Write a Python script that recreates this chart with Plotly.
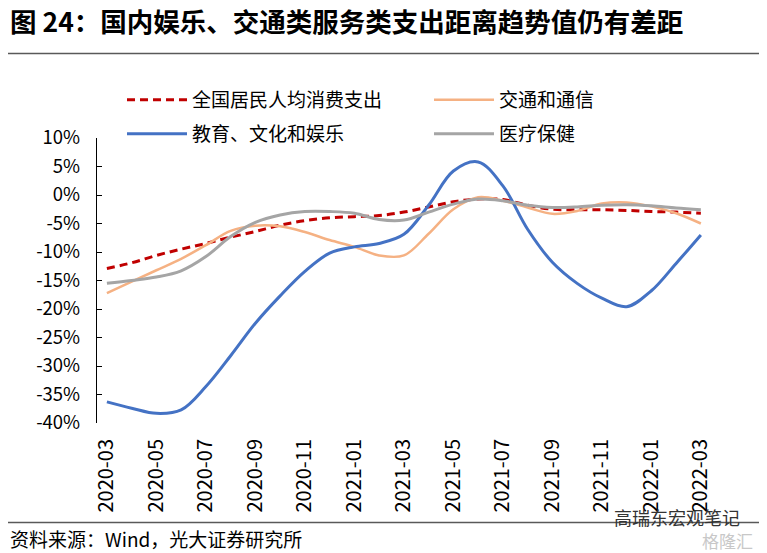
import plotly.graph_objects as go

months = ["2020-03", "2020-04", "2020-05", "2020-06", "2020-07", "2020-08", "2020-09",
          "2020-10", "2020-11", "2020-12", "2021-01", "2021-02", "2021-03", "2021-04",
          "2021-05", "2021-06", "2021-07", "2021-08", "2021-09", "2021-10", "2021-11",
          "2021-12", "2022-01", "2022-02", "2022-03"]

consumption = [-12.9, -11.9, -10.6, -9.5, -8.5, -7.4, -6.4, -5.3, -4.5, -4.0, -3.8, -3.6, -3.0,
               -2.1, -1.2, -0.7, -0.8, -1.8, -2.5, -2.6, -2.6, -2.7, -2.9, -3.0, -3.2]
transport = [-17.2, -15.2, -13.2, -11.2, -8.8, -6.3, -5.4, -5.5, -6.5, -7.9, -9.1, -10.6, -10.6,
             -6.8, -2.5, -0.4, -1.0, -2.2, -3.3, -2.8, -1.5, -1.3, -2.0, -3.2, -5.0]
education = [-36.3, -37.4, -38.3, -37.7, -33.6, -28.2, -22.5, -17.7, -13.4, -10.2, -9.1, -8.5, -6.9,
             -1.8, 4.2, 5.8, 1.6, -6.0, -11.8, -15.5, -18.1, -19.6, -16.8, -12.0, -7.0]
healthcare = [-15.5, -15.0, -14.4, -13.3, -10.8, -7.3, -4.8, -3.5, -2.9, -2.9, -3.2, -4.3, -4.4,
              -3.0, -1.6, -0.7, -1.0, -1.8, -2.2, -2.1, -1.8, -1.7, -1.9, -2.3, -2.6]

series_names = ["全国居民人均消费支出", "交通和通信", "教育、文化和娱乐", "医疗保健"]
tick_labels = months[::2]
y_ticks = [10, 5, 0, -5, -10, -15, -20, -25, -30, -35, -40]
zero_axis_ticks = [i + 1.5 for i in range(0, 24, 2)]

TITLE = "图 24：国内娱乐、交通类服务类支出距离趋势值仍有差距"
SOURCE = "资料来源：Wind，光大证券研究所"

# The page body has an 8px default margin; size the figure so it fits the window.
OFF = 8
W, H = 767 - OFF, 553 - OFF
# plot area in window pixels
L, R, T, B = 97, 712, 138, 423
FONT = "Noto Sans CJK SC"


def px_x(px):
    return (px - L) / (R - L)


def px_y(py):
    return (B - py) / (B - T)


fig = go.Figure()
styles = [
    dict(color="#C00000", width=3, dash="8px,5px"),
    dict(color="#F5B183", width=2.5),
    dict(color="#4472C4", width=3),
    dict(color="#A5A5A5", width=3),
]
datas = [consumption, transport, education, healthcare]
legends = ["legend", "legend2", "legend3", "legend4"]
for name, data, st, lg in zip(series_names, datas, styles, legends):
    fig.add_trace(go.Scatter(
        x=months, y=data, mode="lines", name=name,
        line=dict(shape="spline", smoothing=1.0, **st),
        legend=lg, hoverinfo="skip",
    ))

ITEMW = 60
leg_common = dict(orientation="h", xref="paper", yref="paper", itemwidth=ITEMW,
                  xanchor="left", yanchor="middle", bgcolor="rgba(0,0,0,0)",
                  font=dict(family=FONT, size=19, color="#000000"))
col1_x, col2_x = 192, 499
row1_y, row2_y = 100, 134
lead = ITEMW + 10
layout_legends = {
    "legend": dict(x=px_x(col1_x - lead), y=px_y(row1_y), **leg_common),
    "legend2": dict(x=px_x(col2_x - lead), y=px_y(row1_y), **leg_common),
    "legend3": dict(x=px_x(col1_x - lead), y=px_y(row2_y), **leg_common),
    "legend4": dict(x=px_x(col2_x - lead), y=px_y(row2_y), **leg_common),
}

fig.update_layout(
    width=W, height=H,
    margin=dict(l=L - OFF, r=W - (R - OFF), t=T - OFF, b=H - (B - OFF), pad=0,
                autoexpand=False),
    paper_bgcolor="white", plot_bgcolor="white",
    font=dict(family=FONT, size=18.5, color="#000000"),
    showlegend=True,
    **layout_legends,
    xaxis=dict(
        type="category", range=[-0.4, 24.45], automargin=False,
        tickmode="array", tickvals=tick_labels, ticktext=tick_labels,
        tickangle=-90, ticks="", showline=False, showgrid=False, zeroline=False,
        ticklabelstandoff=11,
        tickfont=dict(family=FONT, size=20, color="#000000"),
    ),
    xaxis2=dict(
        overlaying="x", anchor="free", position=0.8, side="top",
        type="linear", range=[-0.4, 24.45], automargin=False,
        tickmode="array", tickvals=zero_axis_ticks, ticks="outside", ticklen=5,
        tickwidth=1.3, tickcolor="#000000",
        showticklabels=False, showline=True, linecolor="#000000", linewidth=1.3,
        showgrid=False, zeroline=False,
    ),
    yaxis=dict(
        range=[-40, 10], tickmode="array", tickvals=y_ticks, automargin=False,
        ticktext=[f"{v}%" for v in y_ticks],
        ticks="inside", ticklen=5, tickwidth=1.3, tickcolor="#000000",
        showline=True, linecolor="#000000", linewidth=1.3,
        showgrid=False, zeroline=False, ticklabelstandoff=12,
        tickfont=dict(family=FONT, size=18.5, color="#000000"),
    ),
)

# Title, separator lines, source
fig.add_annotation(text=TITLE, xref="paper", yref="paper", x=px_x(OFF + 1), y=px_y(20.5),
                   xanchor="left", yanchor="middle", showarrow=False, borderpad=0,
                   font=dict(family=FONT, size=26.5, color="#000000", weight="bold"))
for ly in (53.5, 522.5):
    fig.add_shape(type="line", xref="paper", yref="paper",
                  x0=px_x(OFF), x1=px_x(762), y0=px_y(ly), y1=px_y(ly),
                  line=dict(color="#595959", width=1.3))
fig.add_annotation(text=SOURCE, xref="paper", yref="paper", x=px_x(OFF), y=px_y(538),
                   xanchor="left", yanchor="middle", showarrow=False,
                   font=dict(family=FONT, size=19, color="#000000"))
# watermark
fig.add_annotation(text="高瑞东宏观笔记", xref="paper", yref="paper", x=px_x(612), y=px_y(517),
                   xanchor="left", yanchor="middle", showarrow=False,
                   font=dict(family=FONT, size=18, color="#333333"))
fig.add_annotation(text="格隆汇", xref="paper", yref="paper", x=px_x(700), y=px_y(540),
                   xanchor="left", yanchor="middle", showarrow=False,
                   font=dict(family=FONT, size=17, color="#C8C8C8"))

fig.write_html("out.html")
